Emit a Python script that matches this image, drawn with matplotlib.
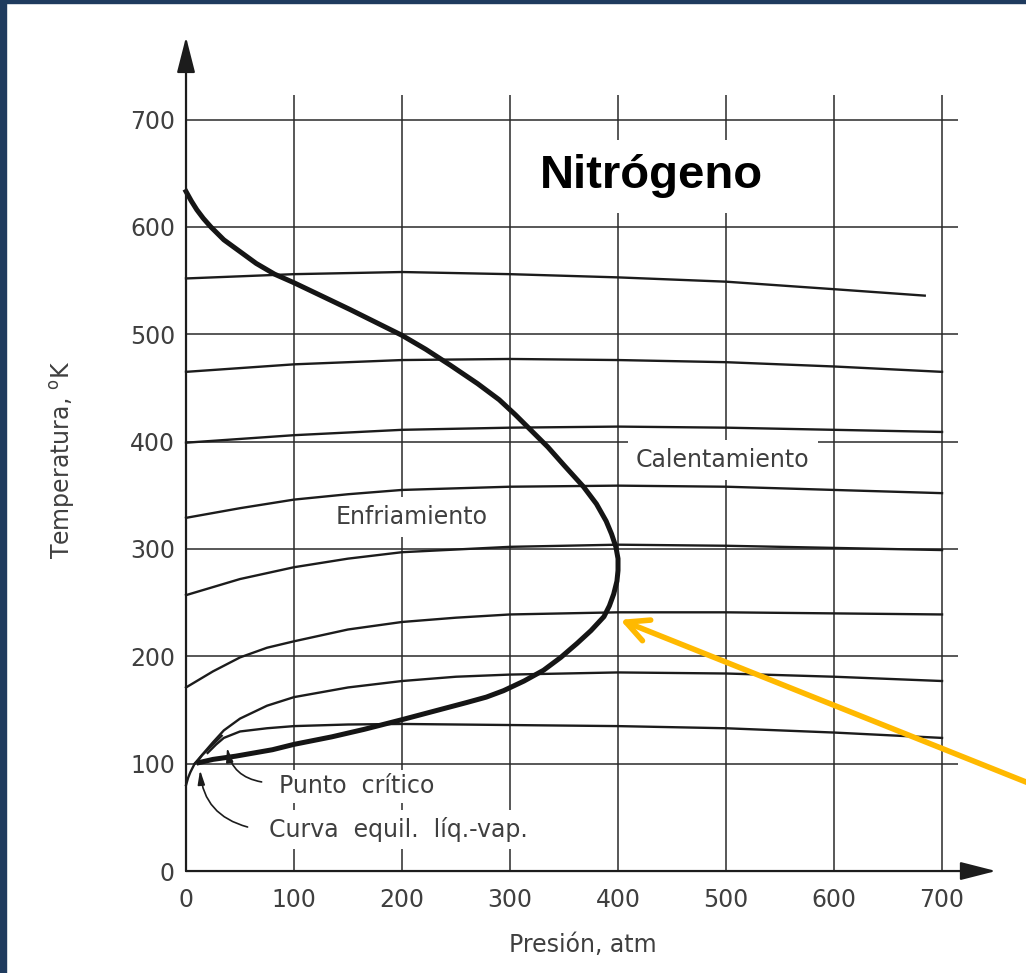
import matplotlib
matplotlib.use("Agg")
import matplotlib.pyplot as plt
from matplotlib.patches import Rectangle

# ticks
xticks = [0, 100, 200, 300, 400, 500, 600, 700]
yticks = [0, 100, 200, 300, 400, 500, 600, 700]

# curva de inversion (trazo grueso)
inv_p = [0, 5, 10, 16, 23, 35, 50, 65, 82, 100, 125, 152, 176, 200, 222, 245, 270,
         290, 305, 320, 335, 350, 368, 380, 389, 394, 398, 400, 400, 399, 396, 392,
         387, 375, 362, 347, 331, 313, 294, 278, 260, 230, 200, 165, 135, 100, 80,
         46, 25, 12]
inv_t = [633, 624, 616, 608, 600, 588, 577, 566, 556, 548, 536, 523, 511, 499, 486,
         471, 454, 439, 425, 410, 395, 378, 358, 342, 326, 314, 302, 291, 280, 270,
         258, 247, 237, 224, 212, 199, 187, 177, 168, 162, 157, 149, 141, 132, 125,
         118, 113, 107, 104, 101]

# curvas isentalpicas
iso_p = [
    [0, 100, 200, 300, 400, 500, 600, 684],
    [0, 100, 200, 300, 400, 500, 600, 700],
    [0, 100, 200, 300, 400, 500, 600, 700],
    [0, 50, 100, 150, 200, 300, 400, 500, 600, 700],
    [0, 50, 100, 150, 200, 300, 400, 500, 600, 700],
    [0, 25, 50, 75, 100, 150, 200, 250, 300, 400, 500, 600, 700],
    [8, 13, 19, 25, 35, 50, 75, 100, 150, 200, 250, 300, 400, 500, 600, 700],
    [20, 28, 35, 50, 75, 100, 150, 200, 300, 400, 500, 600, 700],
]
iso_t = [
    [552, 556, 558, 556, 553, 549, 542, 536],
    [465, 472, 476, 477, 476, 474, 470, 465],
    [399, 406, 411, 413, 414, 413, 411, 409],
    [329, 338, 346, 351, 355, 358, 359, 358, 355, 352],
    [257, 272, 283, 291, 297, 302, 304, 303, 301, 299],
    [171, 186, 199, 208, 214, 225, 232, 236, 239, 241, 241, 240, 239],
    [100, 106, 113, 120, 131, 142, 154, 162, 171, 177, 181, 183, 185, 184, 181, 177],
    [110, 118, 124, 130, 133, 135, 136.5, 137, 136, 135, 133, 129, 124],
]

# curva equilibrio liq-vap
eq_p = [0, 2, 4, 8, 12, 15, 20, 25, 33]
eq_t = [80, 87, 92, 100, 104, 108, 113, 118, 126]

ink = '#1c1c1c'
txt = '#3f3f3f'

fig = plt.figure(figsize=(10.26, 9.73), dpi=100)
ax = fig.add_axes([0.1813, 0.1048, 0.8158, 0.8716])
ax.set_xlim(0, 775)
ax.set_ylim(0, 790)
for s in ax.spines.values():
    s.set_visible(False)

# rejilla
ax.hlines(yticks[1:], 0, 715, color='#2a2a2a', lw=1.1, zorder=1)
ax.vlines(xticks[1:], 0, 723, color='#2a2a2a', lw=1.1, zorder=1)

# ejes con flecha
ax.annotate('', xy=(750, 0), xytext=(0, 0), annotation_clip=False,
            arrowprops=dict(arrowstyle='-|>,head_length=1.1,head_width=0.28',
                            mutation_scale=20, color=ink, lw=1.6, shrinkA=0, shrinkB=0),
            zorder=6)
ax.annotate('', xy=(0, 777), xytext=(0, 0), annotation_clip=False,
            arrowprops=dict(arrowstyle='-|>,head_length=1.1,head_width=0.28',
                            mutation_scale=20, color=ink, lw=1.6, shrinkA=0, shrinkB=0),
            zorder=6)

ax.set_xticks(xticks)
ax.set_yticks(yticks)
ax.tick_params(axis='both', length=0, labelsize=17, labelcolor=txt)
ax.tick_params(axis='x', pad=12)
ax.tick_params(axis='y', pad=8)

for p, t in zip(iso_p, iso_t):
    ax.plot(p, t, color=ink, lw=1.7, zorder=4, clip_on=False,
            solid_joinstyle='round')
ax.plot(eq_p, eq_t, color=ink, lw=1.7, zorder=4, clip_on=False,
        solid_joinstyle='round')
ax.plot(inv_p, inv_t, color='#151515', lw=3.6, zorder=4, clip_on=False,
        solid_joinstyle='round')

box = dict(facecolor='white', edgecolor='none', boxstyle='square,pad=0.35')
ax.text(431, 647, 'Nitrógeno', fontsize=34, fontweight='bold',
        family='Liberation Sans', ha='center', va='center', color='black',
        bbox=dict(facecolor='white', edgecolor='none', boxstyle='square,pad=0.3'),
        zorder=3)
ax.text(497, 383, 'Calentamiento', fontsize=17, color=txt, ha='center', va='center',
        bbox=box, zorder=3)
ax.text(209, 330, 'Enfriamiento', fontsize=17, color=txt, ha='center', va='center',
        bbox=box, zorder=3)
ax.text(158, 79, 'Punto  crítico', fontsize=17, color=txt, ha='center', va='center',
        bbox=dict(facecolor='white', edgecolor='none', boxstyle='square,pad=0.2'),
        zorder=3)
ax.text(197, 39, 'Curva  equil.  líq.-vap.', fontsize=17, color=txt, ha='center',
        va='center', bbox=dict(facecolor='white', edgecolor='none',
                               boxstyle='square,pad=0.3'), zorder=3)

ax.annotate('', xy=(38, 115), xytext=(70, 83),
            arrowprops=dict(arrowstyle='-|>,head_length=0.6,head_width=0.15',
                            mutation_scale=14, color=ink, lw=1.2,
                            connectionstyle='arc3,rad=-0.35', shrinkA=0, shrinkB=0),
            zorder=5)
ax.annotate('', xy=(13, 94), xytext=(57, 41),
            arrowprops=dict(arrowstyle='-|>,head_length=0.6,head_width=0.15',
                            mutation_scale=14, color=ink, lw=1.2,
                            connectionstyle='arc3,rad=-0.35', shrinkA=0, shrinkB=0),
            zorder=5)

# flecha naranja
ax.annotate('', xy=(402, 234), xytext=(785, 80), annotation_clip=False,
            arrowprops=dict(arrowstyle='->,head_length=0.8,head_width=0.4',
                            mutation_scale=20, color='#FFB900', lw=4,
                            shrinkA=0, shrinkB=0, capstyle='round'),
            zorder=7)

ax.set_xlabel('Presión, atm', fontsize=17, color=txt)
ax.xaxis.label.set_verticalalignment('center')
ax.xaxis.set_label_coords(0.4735, -0.0873)
ax.set_ylabel('Temperatura, $^{\\mathrm{o}}$K', fontsize=17, color=txt)
ax.yaxis.label.set_verticalalignment('center')
ax.yaxis.set_label_coords(-0.148, 0.4846)

# marco azul de la diapositiva
fig.add_artist(Rectangle((0, 0), 6 / 1026, 1, transform=fig.transFigure,
                         color='#1f3b5e', zorder=10))
fig.add_artist(Rectangle((0, 1 - 3 / 973), 1, 3 / 973, transform=fig.transFigure,
                         color='#1f3b5e', zorder=10))

fig.savefig('out.png', dpi=100)
